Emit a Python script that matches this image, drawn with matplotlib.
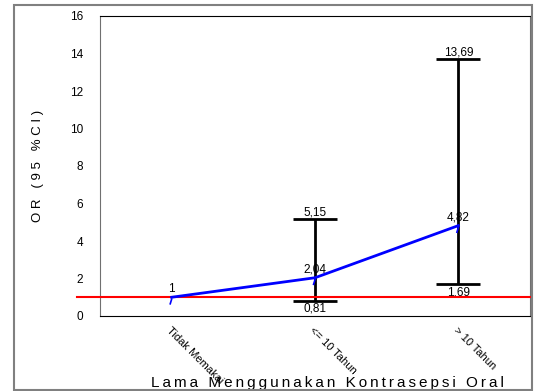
import matplotlib
matplotlib.use("Agg")
from matplotlib import pyplot as plt
from matplotlib.patches import Rectangle

categories = ["Tidak Memakai", "<= 10 Tahun", "> 10 Tahun"]
or_values = [1, 2.04, 4.82]
or_labels = ["1", "2,04", "4,82"]
ci_low = [None, 0.81, 1.69]
ci_high = [None, 5.15, 13.69]
ci_low_labels = ["", "0,81", "1,69"]
ci_high_labels = ["", "5,15", "13,69"]
y_ticks = [0, 2, 4, 6, 8, 10, 12, 14, 16]
x_title = "Lama Menggunakan Kontrasepsi Oral"

plt.rcParams['font.family'] = ['Liberation Sans', 'DejaVu Sans']

fig = plt.figure(figsize=(5.34, 3.91), dpi=100)
ax = fig.add_axes([100 / 534, 1 - 316 / 391, 430 / 534, 300 / 391])

# outer grey frame
fig.patches.append(Rectangle((14 / 534, 1 - 390 / 391), 518 / 534, 385 / 391,
                             transform=fig.transFigure, fill=False,
                             edgecolor="#808080", linewidth=1.5))

x = list(range(len(categories)))

# confidence intervals
for i in x:
    if ci_low[i] is None:
        continue
    ax.errorbar([i], [(ci_low[i] + ci_high[i]) / 2],
                yerr=[[(ci_high[i] - ci_low[i]) / 2]],
                fmt="none", ecolor="black", elinewidth=2, capsize=16, capthick=2, zorder=2)
    ax.text(i, ci_high[i] + 0.05, ci_high_labels[i], ha="center", va="bottom", fontsize=8.5)
    ax.text(i, ci_low[i] - 0.1, ci_low_labels[i], ha="center", va="top", fontsize=8.5)

# reference line at OR = 1
ax.plot([-0.66, 2.5], [1, 1], color="red", linewidth=1.5, clip_on=False, zorder=3)

# OR line
ax.plot(x, or_values, color="blue", linewidth=2, zorder=4)
for i in x:
    ax.plot([i - 0.01, i], [or_values[i] - 0.35, or_values[i] - 0.1], color="blue", linewidth=1.2, zorder=4)
    ax.text(i, or_values[i] + 0.1, or_labels[i], ha="center", va="bottom", fontsize=8.5)

ax.set_xlim(-0.5, 2.5)
ax.set_ylim(0, 16)
ax.set_yticks(y_ticks)
ax.set_yticklabels([str(v) for v in y_ticks], fontsize=8.5)
ax.set_xticks(x)
ax.set_xticklabels(categories, rotation=-45, ha="left", va="top", rotation_mode="anchor",
                   fontsize=8, fontstretch="condensed")
ax.tick_params(axis="y", length=0, pad=12)
ax.tick_params(axis="x", length=0, pad=7)

ax.set_ylabel("O R   ( 9 5   % C I )", fontsize=9.5, labelpad=19)
# letter-spaced axis title like the original
ax.set_xlabel("\u2009".join(x_title), fontsize=11)
ax.xaxis.set_label_coords(0.528, -0.2)

for side in ["left", "right"]:
    ax.spines[side].set_color("#707070")
ax.spines["top"].set_color("black")
ax.spines["bottom"].set_color("black")

fig.savefig("out.png", dpi=100)
